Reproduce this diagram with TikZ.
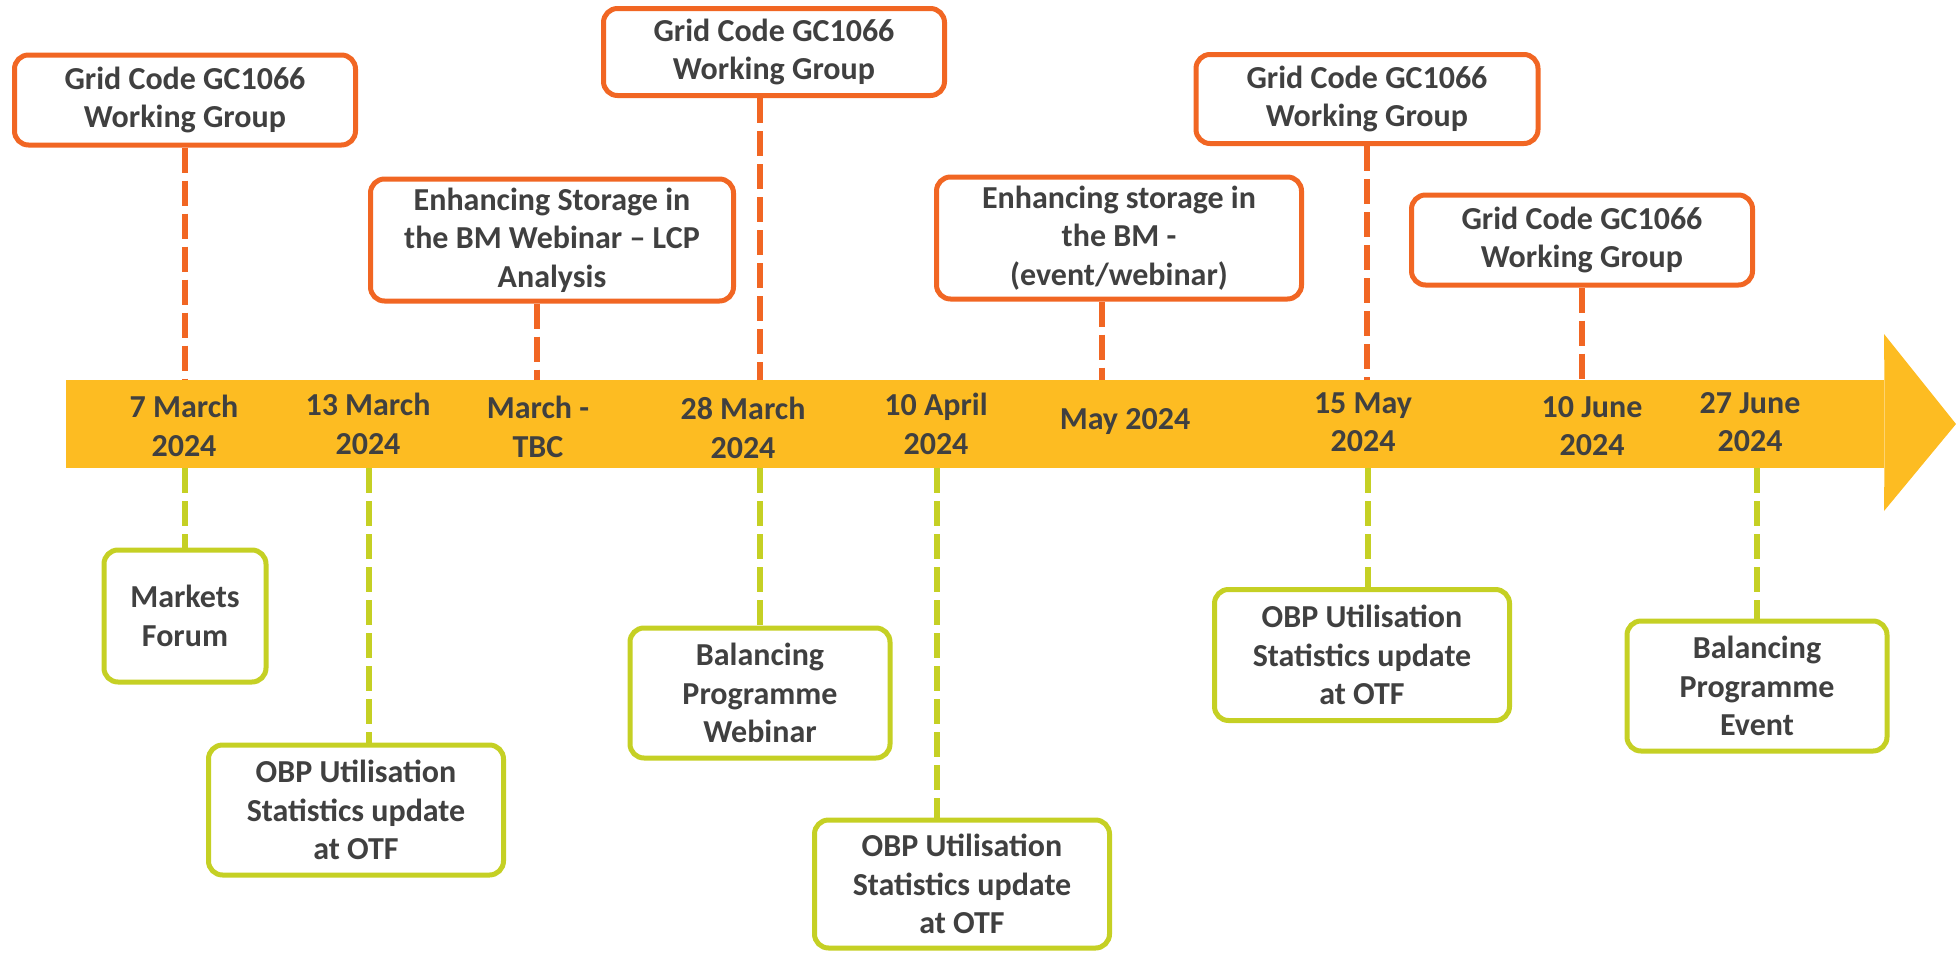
\documentclass[tikz,border=0pt]{standalone}
\usepackage{fontspec}
\setmainfont{Carlito}
\usepackage{tikz}

\definecolor{ngOrange}{RGB}{241,102,35}
\definecolor{ngGreen}{RGB}{197,208,36}
\definecolor{ngYellow}{RGB}{253,188,34}
\definecolor{ngText}{RGB}{64,64,64}

\begin{document}
\begin{tikzpicture}
    [
    x = 1pt, y = -1pt,
    every node/.style = {font=\bfseries\fontsize{32}{38.5}\selectfont, text=ngText, align=center, inner sep=0pt},
    upper/.style      = {draw=ngOrange, line width=5pt, rounded corners=14pt, fill=white},
    lower/.style      = {draw=ngGreen, line width=5pt, rounded corners=14pt, fill=white},
    olink/.style      = {draw=ngOrange, line width=6pt, dash pattern=on 25pt off 8pt},
    glink/.style      = {draw=ngGreen, line width=6pt, dash pattern=on 25pt off 8pt}
    ]
    \useasboundingbox (0,0) rectangle (1956,953);

    \node (bar) [fill=ngYellow, minimum width=1818pt, minimum height=88pt, anchor=north west] at (66,380) {};
    \fill [ngYellow] (bar.north east) -- (1884,334) -- (1956,424) -- (1884,511) -- (bar.south east) -- cycle;

    \node (d1) at (184,426) {7 March\\2024};
    \node (d2) at (368,424) {13 March\\2024};
    \node (d3) at (538,427) {March -\\TBC};
    \node (d4) at (743,428) {28 March\\2024};
    \node (d5) at (936,424) {10 April\\2024};
    \node (d6) at (1125,422) {May 2024};
    \node (d7) at (1363,422) {15 May\\2024};
    \node (d8) at (1592,426) {10 June\\2024};
    \node (d9) at (1750,422) {27 June\\2024};

    \node (t1) [upper, minimum width=341pt, minimum height=90pt] at (185,100) {Grid Code GC1066\\Working Group};
    \node (t2) [upper, minimum width=363pt, minimum height=122pt] at (552,240) {Enhancing Storage in\\the BM Webinar -- LCP\\Analysis};
    \node (t3) [upper, minimum width=341pt, minimum height=87pt] at (774,52) {Grid Code GC1066\\Working Group};
    \node (t4) [upper, minimum width=365pt, minimum height=122pt] at (1119,238) {Enhancing storage in\\the BM -\\(event/webinar)};
    \node (t5) [upper, minimum width=342pt, minimum height=89pt] at (1367,99) {Grid Code GC1066\\Working Group};
    \node (t6) [upper, minimum width=341pt, minimum height=90pt] at (1582,240) {Grid Code GC1066\\Working Group};

    \node (b1) [lower, minimum width=162pt, minimum height=132pt] at (185,616) {Markets\\Forum};
    \node (b2) [lower, minimum width=295pt, minimum height=130pt] at (356,810) {OBP Utilisation\\Statistics update\\at OTF};
    \node (b3) [lower, minimum width=260pt, minimum height=130pt] at (760,693) {Balancing\\Programme\\Webinar};
    \node (b4) [lower, minimum width=295pt, minimum height=128pt] at (962,884) {OBP Utilisation\\Statistics update\\at OTF};
    \node (b5) [lower, minimum width=295pt, minimum height=131pt] at (1362,655) {OBP Utilisation\\Statistics update\\at OTF};
    \node (b6) [lower, minimum width=260pt, minimum height=130pt] at (1757,686) {Balancing\\Programme\\Event};

    \foreach \b/\s in {t1/0, t2/-15, t3/-14, t4/-17, t5/0, t6/0}
        \draw [olink] ([xshift=\s pt]\b.south) -- ([xshift=\s pt]\b.south |- bar.north);
    \foreach \b/\s in {b1/0, b2/13, b3/0, b4/-25, b5/6, b6/0}
        \draw [glink] ([xshift=\s pt]\b.north |- bar.south) -- ([xshift=\s pt]\b.north);
\end{tikzpicture}
\end{document}
